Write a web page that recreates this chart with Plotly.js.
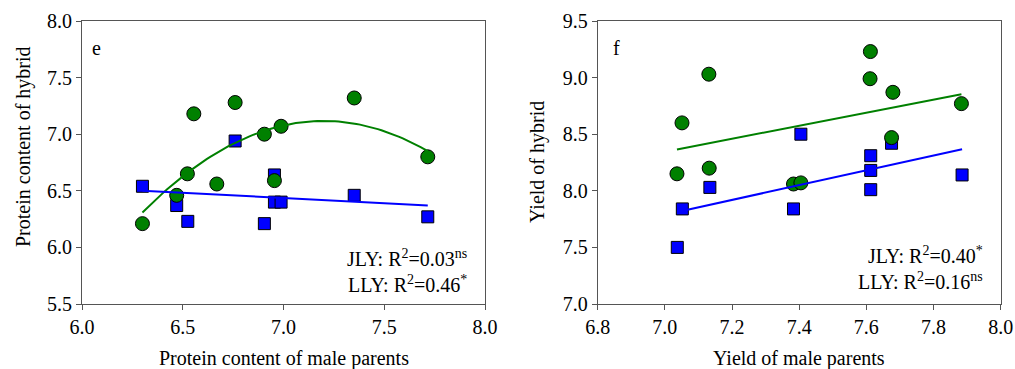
<!DOCTYPE html>
<html>
<head>
<meta charset="utf-8">
<script src="https://cdn.plot.ly/plotly-3.0.1.min.js"></script>
<style>
  html, body { margin: 0; padding: 0; background: #fff; }
  #chart { width: 1015px; height: 369px; }
</style>
</head>
<body>
<div id="chart"></div>
<script>
// ---- Panel e: protein content ----
const proteinJlyX = [6.30, 6.47, 6.525, 6.76, 6.905, 6.955, 6.955, 6.988, 7.351, 7.716];
const proteinJlyY = [6.54, 6.37, 6.23, 6.94, 6.21, 6.64, 6.40, 6.40, 6.46, 6.27];
const proteinLlyX = [6.30, 6.47, 6.523, 6.555, 6.669, 6.76, 6.905, 6.955, 6.988, 7.351, 7.716];
const proteinLlyY = [6.21, 6.46, 6.65, 7.18, 6.56, 7.28, 7.00, 6.59, 7.07, 7.32, 6.80];

// ---- Panel f: yield ----
const yieldJlyX = [7.037, 7.052, 7.134, 7.383, 7.405, 7.613, 7.613, 7.613, 7.675, 7.885];
const yieldJlyY = [7.50, 7.84, 8.03, 7.84, 8.50, 8.31, 8.18, 8.01, 8.42, 8.14];
const yieldLlyX = [7.036, 7.051, 7.131, 7.132, 7.383, 7.405, 7.612, 7.611, 7.679, 7.675, 7.883];
const yieldLlyY = [8.15, 8.60, 9.03, 8.20, 8.06, 8.07, 9.23, 8.99, 8.87, 8.47, 8.77];

// ---- Labels ----
const panelLabels = ["e", "f"];
const xTitles = ["Protein content of male parents", "Yield of male parents"];
const yTitles = ["Protein content of hybrid", "Yield of hybrid"];
const statsE = ["JLY: R<sup>2</sup>=0.03<sup>ns</sup>", "LLY: R<sup>2</sup>=0.46<sup>*</sup>"];
const statsF = ["JLY: R<sup>2</sup>=0.40<sup>*</sup>", "LLY: R<sup>2</sup>=0.16<sup>ns</sup>"];

// ---- least-squares helpers ----
function linFit(xs, ys) {
  const n = xs.length;
  const mx = xs.reduce((a, b) => a + b, 0) / n;
  const my = ys.reduce((a, b) => a + b, 0) / n;
  let sxy = 0, sxx = 0;
  for (let i = 0; i < n; i++) { sxy += (xs[i] - mx) * (ys[i] - my); sxx += (xs[i] - mx) ** 2; }
  const b = sxy / sxx, a = my - b * mx;
  const x0 = Math.min(...xs), x1 = Math.max(...xs);
  return { x: [x0, x1], y: [a + b * x0, a + b * x1] };
}
function quadFit(xs, ys) {
  const S = [0, 0, 0, 0, 0], T = [0, 0, 0];
  for (let i = 0; i < xs.length; i++) {
    let p = 1;
    for (let k = 0; k < 5; k++) { S[k] += p; p *= xs[i]; }
    T[0] += ys[i]; T[1] += ys[i] * xs[i]; T[2] += ys[i] * xs[i] * xs[i];
  }
  const M = [[S[0], S[1], S[2], T[0]], [S[1], S[2], S[3], T[1]], [S[2], S[3], S[4], T[2]]];
  for (let c = 0; c < 3; c++) {
    let piv = c;
    for (let r = c + 1; r < 3; r++) if (Math.abs(M[r][c]) > Math.abs(M[piv][c])) piv = r;
    [M[c], M[piv]] = [M[piv], M[c]];
    for (let r = 0; r < 3; r++) {
      if (r === c) continue;
      const f = M[r][c] / M[c][c];
      for (let k = c; k < 4; k++) M[r][k] -= f * M[c][k];
    }
  }
  const co = [M[0][3] / M[0][0], M[1][3] / M[1][1], M[2][3] / M[2][2]];
  const x0 = Math.min(...xs), x1 = Math.max(...xs);
  const fx = [], fy = [];
  for (let i = 0; i <= 80; i++) {
    const x = x0 + (x1 - x0) * i / 80;
    fx.push(x); fy.push(co[0] + co[1] * x + co[2] * x * x);
  }
  return { x: fx, y: fy };
}

const BLUE = "#0000FF", GREEN = "#008000";
const FONT = "'Liberation Serif', 'Times New Roman', Times, serif";
const FS = 20;

const fitEJ = linFit(proteinJlyX, proteinJlyY);
const fitEL = quadFit(proteinLlyX, proteinLlyY);
const fitFJ = linFit(yieldJlyX, yieldJlyY);
const fitFL = linFit(yieldLlyX, yieldLlyY);

const sq = { symbol: "square", size: 12, color: BLUE, line: { color: "#000", width: 1 } };
const ci = { symbol: "circle", size: 14, color: GREEN, line: { color: "#000", width: 1 } };

const traces = [
  { x: proteinJlyX, y: proteinJlyY, mode: "markers", type: "scatter", marker: sq, name: "JLY", xaxis: "x", yaxis: "y" },
  { x: proteinLlyX, y: proteinLlyY, mode: "markers", type: "scatter", marker: ci, name: "LLY", xaxis: "x", yaxis: "y" },
  { x: fitEL.x, y: fitEL.y, mode: "lines", type: "scatter", line: { color: GREEN, width: 2 }, xaxis: "x", yaxis: "y" },
  { x: fitEJ.x, y: fitEJ.y, mode: "lines", type: "scatter", line: { color: BLUE, width: 2 }, xaxis: "x", yaxis: "y" },

  { x: yieldJlyX, y: yieldJlyY, mode: "markers", type: "scatter", marker: sq, name: "JLY", xaxis: "x2", yaxis: "y2" },
  { x: yieldLlyX, y: yieldLlyY, mode: "markers", type: "scatter", marker: ci, name: "LLY", xaxis: "x2", yaxis: "y2" },
  { x: fitFL.x, y: fitFL.y, mode: "lines", type: "scatter", line: { color: GREEN, width: 2 }, xaxis: "x2", yaxis: "y2" },
  { x: fitFJ.x, y: fitFJ.y, mode: "lines", type: "scatter", line: { color: BLUE, width: 2 }, xaxis: "x2", yaxis: "y2" }
];

const axBase = {
  showgrid: false, zeroline: false, showline: true, mirror: true,
  linecolor: "#555", linewidth: 1, ticks: "outside", ticklen: 5, tickcolor: "#555",
  tickfont: { family: FONT, size: FS, color: "#000" }, tickformat: ".1f", fixedrange: true
};
const tf = { family: FONT, size: FS, color: "#000" };
const py = (pix) => 1 - (pix - 21) / 283; // pixel row -> paper y (plot spans rows 21..304)

const layout = {
  width: 1015, height: 369,
  margin: { l: 0, r: 0, t: 21, b: 65 },
  paper_bgcolor: "#fff", plot_bgcolor: "#fff",
  showlegend: false,
  font: tf,
  xaxis: Object.assign({}, axBase, {
    domain: [82 / 1015, 485 / 1015], range: [6.0, 8.0], dtick: 0.5, tick0: 6.0, anchor: "y"
  }),
  yaxis: Object.assign({}, axBase, {
    domain: [0, 1], range: [5.5, 8.0], dtick: 0.5, tick0: 5.5, anchor: "x"
  }),
  xaxis2: Object.assign({}, axBase, {
    domain: [597.7 / 1015, 1000.7 / 1015], range: [6.8, 8.0], dtick: 0.2, tick0: 6.8, anchor: "y2"
  }),
  yaxis2: Object.assign({}, axBase, {
    domain: [0, 1], range: [7.0, 9.5], dtick: 0.5, tick0: 7.0, anchor: "x2"
  }),
  annotations: [
    { text: xTitles[0], x: 284 / 1015, y: py(358), xref: "paper", yref: "paper", xanchor: "center", yanchor: "middle", showarrow: false, font: tf },
    { text: xTitles[1], x: 799 / 1015, y: py(358), xref: "paper", yref: "paper", xanchor: "center", yanchor: "middle", showarrow: false, font: tf },
    { text: yTitles[0], x: 23 / 1015, y: py(147), xref: "paper", yref: "paper", xanchor: "center", yanchor: "middle", textangle: -90, showarrow: false, font: tf },
    { text: yTitles[1], x: 537 / 1015, y: py(162), xref: "paper", yref: "paper", xanchor: "center", yanchor: "middle", textangle: -90, showarrow: false, font: tf },
    { text: panelLabels[0], x: 6.074, y: 7.761, xref: "x", yref: "y", showarrow: false, font: tf },
    { text: panelLabels[1], x: 6.857, y: 9.261, xref: "x2", yref: "y2", showarrow: false, font: tf },
    { text: statsE[0] + "<br>" + statsE[1], x: 7.92, y: 5.79, xref: "x", yref: "y", xanchor: "right", align: "right", showarrow: false, font: tf },
    { text: statsF[0] + "<br>" + statsF[1], x: 7.953, y: 7.315, xref: "x2", yref: "y2", xanchor: "right", align: "right", showarrow: false, font: tf }
  ]
};

Plotly.newPlot("chart", traces, layout, { staticPlot: true, displayModeBar: false });
</script>
</body>
</html>
